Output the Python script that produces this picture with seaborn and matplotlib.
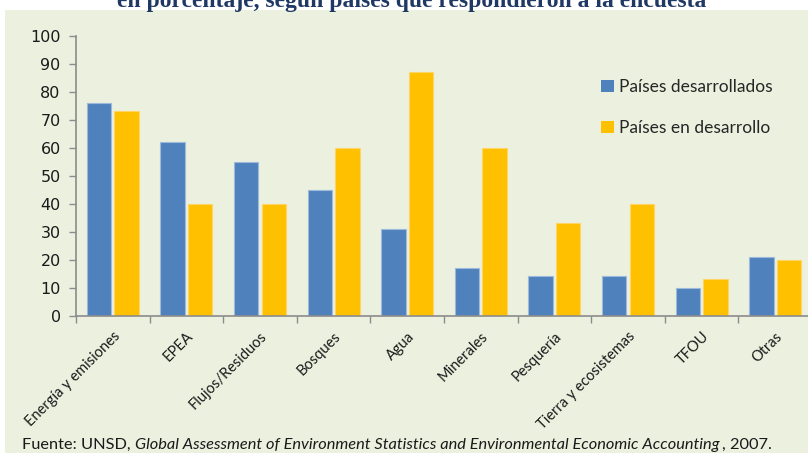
import matplotlib
matplotlib.use("Agg")
import matplotlib.pyplot as plt
import seaborn as sns
import pandas as pd
from matplotlib.patches import Patch
from matplotlib.ticker import FixedLocator

categories = ["Energía y emisiones", "EPEA", "Flujos/Residuos", "Bosques", "Agua",
              "Minerales", "Pesquería", "Tierra y ecosistemas", "TFOU", "Otras"]
desarrollados = [76, 62, 55, 45, 31, 17, 14, 14, 10, 21]
en_desarrollo = [73, 40, 40, 60, 87, 60, 33, 40, 13, 20]
series_names = ["Países desarrollados", "Países en desarrollo"]
yticks = [0, 10, 20, 30, 40, 50, 60, 70, 80, 90, 100]
title = "en porcentaje, según países que respondieron a la encuesta"
source_parts = ["Fuente: UNSD, ",
                "Global Assessment of Environment Statistics and Environmental Economic Accounting",
                ", 2007."]

BG = "#EBF0DF"
BLUE = "#4F81BD"
YELLOW = "#FFC000"

df = pd.DataFrame({
    "cat": categories * 2,
    "val": desarrollados + en_desarrollo,
    "serie": [series_names[0]] * len(categories) + [series_names[1]] * len(categories),
})

sns.set_theme(style="white")
plt.rcParams["font.family"] = ["Lato", "DejaVu Sans"]

W, H = 808, 453
fig = plt.figure(figsize=(W / 100, H / 100), dpi=100)
fig.patch.set_facecolor("white")
# green panel
fig.add_artist(plt.Rectangle((5 / W, 0), 1, 1 - 10 / H, transform=fig.transFigure,
                             facecolor=BG, edgecolor="none", zorder=-10))

ax = fig.add_axes([76 / W, 1 - 315.5 / H, (812 - 76) / W, (315.5 - 35.7) / H])
ax.set_facecolor("none")

sns.barplot(data=df, x="cat", y="val", hue="serie", order=categories,
            hue_order=series_names, palette=[BLUE, YELLOW], width=0.75, gap=0.12,
            ax=ax, legend=False, saturation=1)
for p in ax.patches:
    p.set_edgecolor("#9DB9DC" if p.get_facecolor()[2] > 0.5 else "#FFD566")
    p.set_linewidth(0.8)

ax.set_xlim(-0.5, len(categories) - 0.5)
ax.set_ylim(0, 100)
ax.set_yticks(yticks)
ax.set_xlabel("")
ax.set_ylabel("")
for s in ["top", "right"]:
    ax.spines[s].set_visible(False)
for s in ["left", "bottom"]:
    ax.spines[s].set_color("#8C8C8C")
    ax.spines[s].set_linewidth(1.2)

ax.tick_params(axis="y", direction="out", length=5, width=1, color="#8C8C8C",
               labelsize=11.5, pad=6, left=True)
for lab in ax.get_yticklabels():
    lab.set_fontfamily("DejaVu Sans")
    lab.set_color("#1A1A1A")

ax.set_xticks(range(len(categories)))
ax.set_xticklabels(categories, rotation=45, ha="right", rotation_mode="anchor",
                   fontsize=10.5, color="#1A1A1A")
ax.tick_params(axis="x", which="major", length=0, pad=10)
ax.xaxis.set_minor_locator(FixedLocator([i - 0.5 for i in range(len(categories) + 1)]))
ax.tick_params(axis="x", which="minor", direction="out", length=5, width=1,
               color="#8C8C8C", bottom=True)

handles = [Patch(facecolor=BLUE, edgecolor="none"), Patch(facecolor=YELLOW, edgecolor="none")]
fig.legend(handles, series_names, loc="upper left", bbox_to_anchor=(594 / W, 1 - 72 / H),
           frameon=False, handlelength=0.75, handleheight=0.75, handletextpad=0.3,
           labelspacing=1.45, fontsize=12.5, borderaxespad=0)

fig.text(412 / W, 1 - 2 / H, title, ha="center", va="center", fontsize=17,
         fontweight="bold", color="#1F3864", family=["Liberation Serif", "DejaVu Serif"])

# source line with italic middle part
renderer = fig.canvas.get_renderer()
x = 22
ypos = 1 - 445 / H
for k, part in enumerate(source_parts):
    t = fig.text(x / W, ypos, part, ha="left", va="center", fontsize=11.8,
                 style="italic" if k == 1 else "normal", color="#1A1A1A")
    bb = t.get_window_extent(renderer=renderer)
    x = bb.x1 + (3 if k == 1 else 0)

fig.savefig("out.png", dpi=100, facecolor="white")
